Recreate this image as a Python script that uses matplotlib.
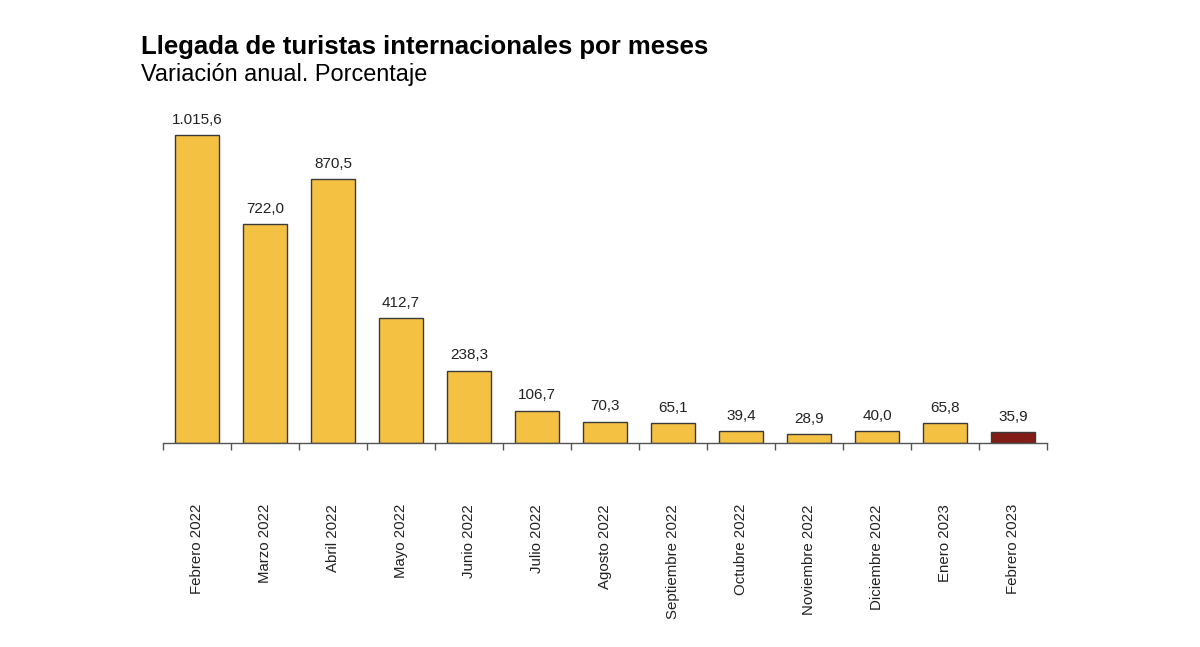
import matplotlib
matplotlib.use("Agg")
import matplotlib.pyplot as plt
from matplotlib.ticker import FixedLocator

plt.rcParams['font.family'] = ['Liberation Sans', 'DejaVu Sans']

categories = ["Febrero 2022", "Marzo 2022", "Abril 2022", "Mayo 2022", "Junio 2022",
              "Julio 2022", "Agosto 2022", "Septiembre 2022", "Octubre 2022",
              "Noviembre 2022", "Diciembre 2022", "Enero 2023", "Febrero 2023"]
values = [1015.6, 722.0, 870.5, 412.7, 238.3, 106.7, 70.3, 65.1, 39.4, 28.9, 40.0, 65.8, 35.9]
value_labels = ["1.015,6", "722,0", "870,5", "412,7", "238,3", "106,7", "70,3", "65,1",
                "39,4", "28,9", "40,0", "65,8", "35,9"]

W, H = 1200, 647
fig = plt.figure(figsize=(W / 100, H / 100), dpi=100)
ymax = 1100
scale = 308 / 1015.6
top_px = 443 - ymax * scale
ax = fig.add_axes([163 / W, 1 - 443 / H, (1047 - 163) / W, (443 - top_px) / H])

x = list(range(len(categories)))
colors = ["#F5C142"] * (len(categories) - 1) + ["#821C16"]
ax.bar(x, values, width=0.66, color=colors, edgecolor="#3a3a3a", linewidth=1.0, zorder=2)

for xi, v, lab in zip(x, values, value_labels):
    ax.annotate(lab, (xi, v), xytext=(0, 6), textcoords="offset points",
                ha="center", va="bottom", fontsize=11, color="#222222")

ax.set_xlim(-0.5, len(categories) - 0.5)
ax.set_ylim(0, ymax)
ax.set_yticks([])
for s in ["top", "right", "left"]:
    ax.spines[s].set_visible(False)
ax.spines["bottom"].set_color("#555555")
ax.spines["bottom"].set_linewidth(1.0)

ax.xaxis.set_major_locator(FixedLocator([i - 0.5 for i in range(len(categories) + 1)]))
ax.xaxis.set_minor_locator(FixedLocator(x))
ax.set_xticklabels([], minor=False)
ax.set_xticks(x, minor=True)
ax.set_xticklabels(categories, minor=True, rotation=90, fontsize=10.8, color="#222222",
                   ha="center", va="top")
ax.tick_params(axis="x", which="major", length=5, width=1.0, color="#555555", direction="out")
ax.tick_params(axis="x", which="minor", length=0, pad=44)

fig.text(141 / W, 1 - 47 / H, "Llegada de turistas internacionales por meses",
         fontsize=18.5, fontweight="bold", ha="left", va="center", color="#000000")
fig.text(141 / W, 1 - 75 / H, "Variación anual. Porcentaje",
         fontsize=16.9, ha="left", va="center", color="#000000")

fig.savefig("out.png", dpi=100)
